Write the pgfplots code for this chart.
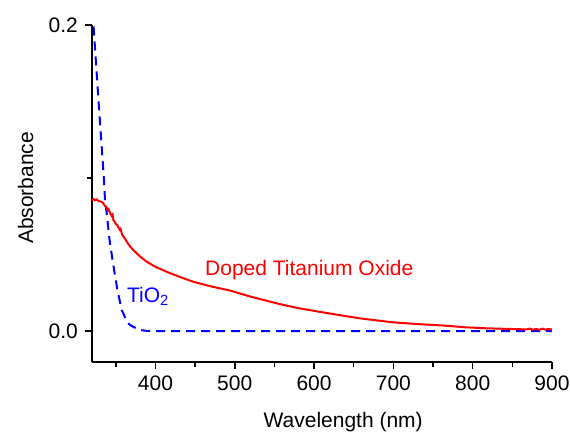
\documentclass[border=0pt]{standalone}
\usepackage{pgfplots}
\pgfplotsset{compat=1.18}
\usepackage{fontspec}
\setmainfont{Liberation Sans}
\begin{document}
\fontsize{21bp}{25bp}\selectfont
\begin{tikzpicture}
\path[use as bounding box] (-92bp,-70.3bp) rectangle (478bp,361.7bp);
\begin{axis}[
  at={(0,0)}, anchor=south west,
  scale only axis,
  width=460bp, height=336.7bp,
  xmin=320, xmax=900, ymin=-0.02, ymax=0.2,
  axis x line*=bottom, axis y line*=left,
  axis line style={line width=1.7bp, black},
  every tick/.style={line width=1.5bp, black},
  tick align=outside,
  major tick length=7bp, minor tick length=5bp,
  xtick={400,500,600,700,800,900},
  minor xtick={350,450,550,650,750,850},
  ytick={0,0.2}, minor ytick={0.1},
  yticklabel style={/pgf/number format/fixed, /pgf/number format/fixed zerofill, /pgf/number format/precision=1},
  /pgf/number format/assume math mode=true,
  ticklabel style={font=\fontsize{21bp}{25bp}\selectfont},
  label style={font=\fontsize{21bp}{25bp}\selectfont},
  xlabel={Wavelength (nm)},
  ylabel={Absorbance},
  xlabel style={at={(axis description cs:0.546,-0.194)}, anchor=base},
  ylabel style={at={(axis description cs:-0.128,0.516)}, anchor=base},
  clip=false,
]
\addplot[blue, line width=2bp, dash pattern=on 9bp off 6bp] coordinates {
(322,0.199) (327,0.160) (332,0.122) (335.1,0.0987) (336.4,0.0856) (338.5,0.0771)
(342,0.060) (346.5,0.0444) (352,0.027) (357.5,0.0137) (359.5,0.0116) (363.7,0.0061)
(368,0.0040) (372,0.0028) (380.5,0.0007) (390,0.0001) (400,0) (900,0)
};
\addplot[red, line width=2bp] coordinates {
(320,0.0856) (322,0.0862) (324,0.0855) (326,0.0860) (328,0.0850) (330,0.0848) (332,0.0845)
(334,0.0836) (336,0.0820) (338,0.0812) (340,0.0790) (341,0.0796) (343,0.0770) (345,0.0752)
(346,0.0760) (347,0.0725) (349,0.0712) (350,0.0700) (352,0.0692) (353,0.0680) (355,0.0662)
(356,0.0668) (358,0.0630) (360,0.0616) (362,0.0600) (365,0.0575) (368,0.0553) (372,0.0530)
(376,0.0510) (380,0.0490) (389,0.0453) (400,0.0420) (414,0.0388) (430,0.0355) (448,0.0322)
(470,0.0292) (494,0.0265) (520,0.0225) (557,0.0176) (582,0.0148) (599,0.0133) (630,0.0106)
(658,0.0083) (700,0.0057) (730,0.0046) (767,0.0035) (790,0.0025) (818,0.0018) (868,0.0011)
(872,0.0016) (876,0.0009) (880,0.0014) (884,0.0008) (888,0.0016) (892,0.0009) (896,0.0014) (900,0.0010)
};
\node[red, anchor=base west, inner sep=0pt] at (axis cs:462.5,0.0366) {Doped Titanium Oxide};
\node[blue, anchor=base west, inner sep=0pt] at (axis cs:364.1,0.0185) {TiO\textsubscript{2}};
\end{axis}
\end{tikzpicture}
\end{document}
